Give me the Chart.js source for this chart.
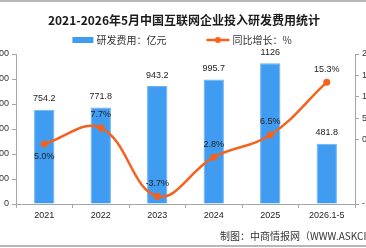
<!DOCTYPE html>
<html>
<head>
<meta charset="utf-8">
<script src="https://cdn.jsdelivr.net/npm/chart.js@4/dist/chart.umd.min.js"></script>
<style>
  html, body { margin: 0; padding: 0; background: #fff; }
  #frame { position: relative; width: 366px; height: 248px; overflow: hidden; background: #fff; }
  #chart { position: absolute; left: -20px; top: 0; }
  .rule { position: absolute; left: 0; width: 366px; height: 2px; background: #b8b8b8; }
  #source {
    position: absolute; left: 220px; top: 228px; white-space: nowrap;
    font: 10px "Noto Sans CJK SC", sans-serif; color: #333;
  }
</style>
</head>
<body>
<div id="frame">
  <canvas id="chart" width="408" height="248"></canvas>
  <div class="rule" style="top:0"></div>
  <div class="rule" style="top:245px"></div>
  <div id="source">制图：中商情报网（WWW.ASKCI.COM）</div>
</div>
<script>
// 数据
const years = ['2021', '2022', '2023', '2024', '2025', '2026.1-5'];
const rdSpend = [754.2, 771.8, 943.2, 995.7, 1126, 481.8];   // 亿元
const growth = [5.0, 7.7, -3.7, 2.8, 6.5, 15.3];             // %
const barName = '研发费用：亿元';
const lineName = '同比增长：%';

const BAR_COLOR = '#3f9cf1';
const LINE_COLOR = '#f4621d';
const AXIS_COLOR = '#a6a6a6';
const CJK = '"Noto Sans CJK SC", sans-serif';
const NUM = '"Liberation Sans", "Noto Sans CJK SC", sans-serif';

Chart.defaults.font.family = NUM;
Chart.defaults.color = '#333';

// 数值标签
const valueLabels = {
    id: 'valueLabels',
    afterDatasetsDraw(chart) {
        const ctx = chart.ctx;
        ctx.save();
        ctx.font = '9px ' + NUM;
        ctx.fillStyle = '#222';
        ctx.textAlign = 'center';
        ctx.textBaseline = 'middle';
        chart.getDatasetMeta(1).data.forEach((bar, i) => {
            ctx.fillText(String(rdSpend[i]), bar.x, bar.y - 11);
        });
        chart.getDatasetMeta(0).data.forEach((pt, i) => {
            const dy = i === 0 ? 13 : -13;
            ctx.fillText(growth[i].toFixed(1) + '%', pt.x, pt.y + dy);
        });
        ctx.restore();
    }
};

// 图例（柱 + 折线带点）
const legendRow = {
    id: 'legendRow',
    afterDraw(chart) {
        const ctx = chart.ctx;
        ctx.save();
        ctx.font = '10px ' + CJK;
        ctx.textBaseline = 'middle';
        const w1 = ctx.measureText(barName).width;
        const w2 = ctx.measureText(lineName).width;
        const total = 21 + 3 + w1 + 40 + 23 + 3 + w2;
        let x = chart.width / 2 - total / 2 - 2;
        const y = 40;
        ctx.fillStyle = BAR_COLOR;
        ctx.fillRect(x, y - 3, 21, 6);
        x += 24;
        ctx.fillStyle = '#333';
        ctx.fillText(barName, x, y);
        x += w1 + 40;
        ctx.strokeStyle = LINE_COLOR;
        ctx.lineWidth = 2.5;
        ctx.beginPath();
        ctx.moveTo(x, y);
        ctx.lineTo(x + 23, y);
        ctx.stroke();
        ctx.fillStyle = LINE_COLOR;
        ctx.beginPath();
        ctx.arc(x + 11.5, y, 3, 0, Math.PI * 2);
        ctx.fill();
        x += 26;
        ctx.fillStyle = '#333';
        ctx.fillText(lineName, x, y);
        ctx.restore();
    }
};

const axisGrid = {
    drawOnChartArea: false,
    drawTicks: true,
    tickLength: 4,
    color: AXIS_COLOR
};

new Chart(document.getElementById('chart'), {
    data: {
        labels: years,
        datasets: [
            {
                type: 'line',
                label: lineName,
                data: growth,
                yAxisID: 'y1',
                order: 0,
                borderColor: LINE_COLOR,
                backgroundColor: LINE_COLOR,
                borderWidth: 2.5,
                tension: 0.4,
                pointRadius: 3.5,
                pointBackgroundColor: LINE_COLOR,
                pointBorderWidth: 0
            },
            {
                type: 'bar',
                label: barName,
                data: rdSpend,
                yAxisID: 'y',
                order: 1,
                backgroundColor: BAR_COLOR,
                borderColor: '#6ab2f5',
                borderWidth: 1,
                categoryPercentage: 1,
                barPercentage: 0.36
            }
        ]
    },
    options: {
        responsive: false,
        animation: false,
        devicePixelRatio: 1,
        layout: { padding: { top: 0, bottom: 24, left: 0, right: 0 } },
        plugins: {
            legend: { display: false },
            tooltip: { enabled: false },
            title: {
                display: true,
                text: '2021-2026年5月中国互联网企业投入研发费用统计',
                color: '#1a1a1a',
                font: { family: CJK, size: 12, weight: 'bold' },
                padding: { top: 13, bottom: 26.6 }
            }
        },
        scales: {
            x: {
                grid: { ...axisGrid, offset: true },
                border: { color: AXIS_COLOR },
                ticks: { font: { size: 9 }, color: '#222', padding: 2, maxRotation: 0 },
                afterFit: s => { s.height = 20; }
            },
            y: {
                position: 'left',
                min: 0,
                max: 1200,
                grid: axisGrid,
                border: { color: AXIS_COLOR },
                ticks: { stepSize: 200, font: { size: 9 }, color: '#333', padding: 3 },
                afterFit: s => { s.width = 36; }
            },
            y1: {
                position: 'right',
                display: false,
                min: -5,
                max: 20
            },
            y2: {
                position: 'right',
                min: -15,
                max: 20,
                grid: axisGrid,
                border: { color: AXIS_COLOR },
                ticks: {
                    stepSize: 5,
                    font: { size: 9 },
                    color: '#333',
                    padding: 3,
                    callback: v => (v === -5 || v === -10) ? null : v
                },
                afterFit: s => { s.width = 33; }
            }
        }
    },
    plugins: [valueLabels, legendRow]
});
</script>
</body>
</html>
